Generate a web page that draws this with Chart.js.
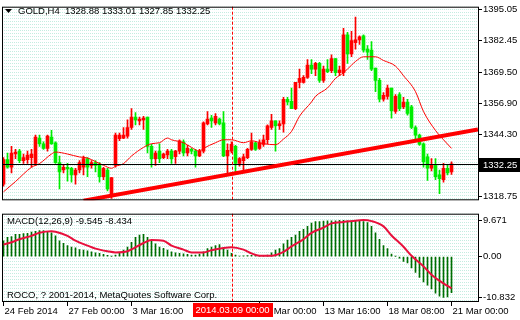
<!DOCTYPE html>
<html>
<head>
<meta charset="utf-8">
<script src="https://cdn.jsdelivr.net/npm/chart.js@4.4.1/dist/chart.umd.min.js"></script>
<style>
  html, body { margin: 0; padding: 0; background: #fff; }
  #wrap { position: relative; width: 520px; height: 320px; overflow: hidden; }
  canvas { position: absolute; left: 0; }
  #price { top: 0; }
  #macd { top: 207px; }
</style>
</head>
<body>
<div id="wrap">
  <canvas id="price" width="520" height="207"></canvas>
  <canvas id="macd" width="520" height="113"></canvas>
</div>
<script>
// GOLD H4 candles, one entry per bar (bar 0 = 24 Feb 2014 00:00)
const barOpen = [
  1323.9, 1333.9, 1330.8, 1336.2, 1337.4, 1333.5, 1333.9, 1334.7, 1332.4, 1342.7,
  1340.4, 1338.5, 1343.1, 1340.8, 1332.7, 1329.7, 1330.8, 1330.4, 1327.7, 1329.7,
  1330.8, 1334.3, 1331.6, 1332.7, 1332.0, 1327.0, 1329.7, 1318.9, 1331.6, 1342.4,
  1342.7, 1343.5, 1347.0, 1351.2, 1349.7, 1350.1, 1351.2, 1339.3, 1334.3, 1337.4,
  1334.7, 1335.8, 1337.4, 1335.1, 1337.4, 1341.2, 1336.6, 1338.1, 1337.4, 1335.4,
  1337.4, 1348.5, 1350.8, 1348.9, 1350.4, 1348.9, 1335.4, 1337.4, 1339.3, 1332.4,
  1333.5, 1334.7, 1338.1, 1340.8, 1338.5, 1340.1, 1342.0, 1347.0, 1349.7, 1347.7,
  1348.5, 1358.5, 1357.7, 1354.7, 1365.4, 1365.4, 1367.4, 1372.4, 1370.8, 1373.1,
  1366.2, 1370.8, 1370.1, 1375.1, 1369.3, 1369.3, 1384.7, 1377.0, 1381.6, 1382.7,
  1384.3, 1378.9, 1378.5, 1371.2, 1366.2, 1358.5, 1359.7, 1363.1, 1353.5, 1360.4,
  1355.4, 1357.4, 1355.4, 1347.0, 1343.9, 1340.4, 1335.1, 1330.4, 1331.6, 1327.7,
  1325.8, 1330.4, 1328.88
];
const barHigh = [
  1334.7, 1336.6, 1339.3, 1338.1, 1338.1, 1336.2, 1337.4, 1338.1, 1343.9, 1343.9,
  1341.2, 1343.9, 1345.8, 1341.2, 1335.4, 1331.6, 1332.4, 1330.8, 1330.4, 1333.5,
  1335.4, 1334.7, 1333.5, 1333.5, 1332.7, 1330.8, 1330.4, 1326.6, 1344.7, 1344.7,
  1347.0, 1350.1, 1354.7, 1353.1, 1351.2, 1351.6, 1351.2, 1340.1, 1337.4, 1340.4,
  1336.6, 1338.1, 1338.1, 1337.7, 1342.0, 1342.0, 1339.7, 1338.5, 1338.1, 1338.1,
  1349.3, 1353.5, 1352.0, 1352.7, 1350.8, 1353.5, 1340.4, 1341.2, 1339.7, 1334.7,
  1336.2, 1338.5, 1344.7, 1341.2, 1342.0, 1343.9, 1348.1, 1352.4, 1349.7, 1349.7,
  1359.3, 1359.3, 1363.1, 1365.4, 1370.8, 1368.1, 1374.7, 1374.7, 1373.5, 1373.5,
  1372.0, 1374.7, 1376.6, 1375.1, 1372.0, 1387.4, 1385.8, 1386.2, 1392.0, 1384.3,
  1384.7, 1380.4, 1382.0, 1371.2, 1367.0, 1361.2, 1364.3, 1363.1, 1360.4, 1361.2,
  1359.3, 1358.5, 1356.0, 1347.7, 1344.3, 1340.8, 1336.2, 1334.3, 1334.3, 1329.7,
  1332.4, 1331.6, 1333.01
];
const barLow = [
  1323.1, 1330.4, 1328.5, 1334.3, 1332.7, 1332.4, 1332.4, 1330.8, 1331.6, 1339.3,
  1338.1, 1337.4, 1340.1, 1332.4, 1322.0, 1328.5, 1325.1, 1324.7, 1323.9, 1328.5,
  1327.7, 1327.0, 1330.4, 1328.9, 1324.7, 1325.8, 1321.2, 1318.1, 1330.8, 1341.6,
  1342.4, 1342.7, 1346.2, 1348.1, 1348.1, 1346.2, 1336.6, 1330.8, 1331.6, 1332.7,
  1334.3, 1334.3, 1332.4, 1332.4, 1336.2, 1335.4, 1335.4, 1336.2, 1330.8, 1335.1,
  1336.6, 1348.1, 1347.0, 1348.1, 1348.1, 1335.1, 1328.5, 1336.6, 1328.9, 1331.2,
  1329.7, 1334.3, 1337.7, 1337.7, 1338.1, 1339.3, 1340.4, 1346.2, 1337.4, 1346.2,
  1345.1, 1356.2, 1354.7, 1354.3, 1363.1, 1365.1, 1367.0, 1368.9, 1368.1, 1365.4,
  1365.4, 1369.3, 1369.3, 1368.1, 1368.1, 1368.1, 1373.1, 1375.8, 1378.9, 1380.8,
  1377.7, 1374.7, 1370.1, 1361.6, 1357.4, 1357.7, 1358.5, 1350.8, 1352.7, 1353.9,
  1354.7, 1352.0, 1346.5, 1342.0, 1339.7, 1330.8, 1325.4, 1329.3, 1325.8, 1320.1,
  1324.7, 1327.7, 1327.85
];
const barClose = [
  1333.9, 1330.8, 1336.6, 1337.0, 1333.5, 1334.7, 1335.8, 1336.2, 1343.1, 1340.4,
  1338.5, 1343.5, 1340.4, 1332.7, 1328.9, 1330.8, 1330.1, 1327.7, 1329.7, 1332.7,
  1334.3, 1330.8, 1332.7, 1331.6, 1327.0, 1330.4, 1322.0, 1326.6, 1343.9, 1343.9,
  1343.9, 1347.0, 1351.2, 1350.1, 1350.4, 1350.8, 1339.3, 1334.3, 1336.6, 1334.3,
  1336.2, 1337.4, 1334.3, 1337.4, 1341.6, 1336.6, 1338.5, 1337.4, 1335.4, 1337.4,
  1348.9, 1350.4, 1349.7, 1351.6, 1348.5, 1335.4, 1337.7, 1340.1, 1332.4, 1334.3,
  1335.1, 1338.1, 1341.2, 1338.1, 1340.8, 1342.0, 1347.7, 1349.7, 1347.7, 1348.5,
  1358.5, 1357.4, 1354.7, 1365.4, 1367.0, 1367.4, 1372.4, 1370.8, 1373.1, 1366.2,
  1370.8, 1369.7, 1375.1, 1369.3, 1370.4, 1384.7, 1377.0, 1382.4, 1382.7, 1383.9,
  1378.5, 1377.7, 1370.8, 1366.2, 1358.5, 1360.1, 1363.1, 1353.9, 1359.7, 1354.7,
  1357.4, 1352.7, 1347.0, 1343.9, 1340.1, 1333.1, 1330.4, 1331.6, 1327.0, 1326.2,
  1330.4, 1328.5, 1332.25
];

// moving average, read at these bars
const maBars = [0, 3, 7, 9, 12, 13, 16, 19, 21, 23, 25, 27, 28, 30, 32, 35, 37, 39, 41, 42,
  45, 47, 49, 50, 53, 55, 57, 60, 62, 65, 68, 70, 72, 74, 77, 78, 81, 83, 85, 87,
  88, 90, 93, 95, 98, 100, 103, 105, 108, 110, 112];
const maValues = [1320.8, 1325.0, 1330.8, 1332.3, 1336.2, 1337.0, 1336.2, 1335.0, 1334.6, 1333.1,
  1331.6, 1330.4, 1331.2, 1332.3, 1335.4, 1338.9, 1340.4, 1340.8, 1342.7, 1342.0,
  1340.8, 1338.9, 1337.4, 1338.5, 1340.8, 1342.0, 1342.0, 1340.8, 1341.6, 1340.4,
  1340.0, 1342.3, 1345.4, 1351.6, 1357.4, 1359.7, 1363.1, 1367.0, 1369.3, 1372.4,
  1373.9, 1375.8, 1375.8, 1374.3, 1372.0, 1368.1, 1361.6, 1353.5, 1345.8, 1342.0, 1338.5];

// trend line end points
const trendBars = [20, 118.6];
const trendValues = [1317.2, 1346.2];

// MACD(12,26,9) main values per bar and the signal line
const macdMain = [
  4.2, 5.1, 5.3, 5.9, 5.9, 6.1, 6.15, 6.5, 6.7, 6.9,
  6.9, 6.7, 6.3, 5.5, 4.2, 3.5, 2.9, 2.5, 2.3, 1.85,
  1.7, 1.5, 1.27, 1.0, 0.84, 0.6, 0.34, 0.05, 0.42, 0.84,
  1.7, 2.5, 3.8, 5.1, 5.7, 5.9, 5.1, 4.05, 3.4, 2.5,
  2.2, 1.7, 1.27, 1.0, 0.84, 0.7, 0.6, 0.42, 0.42, 0.67,
  1.27, 2.1, 2.5, 2.9, 3.2, 2.1, 1.7, 0.84, 0.42, 0.1,
  0.2, 0.25, 0.3, 0.42, 0.3, 0.17, 0.42, 1.0, 1.7, 2.1,
  3.4, 4.4, 5.1, 5.7, 6.7, 7.2, 8.0, 8.9, 9.3, 9.3,
  9.4, 9.5, 9.5, 9.5, 9.6, 9.6, 9.5, 9.5, 9.4, 9.4,
  9.3, 9.0, 8.0, 6.3, 4.6, 2.9, 2.1, 0.67, 0.05, -0.4,
  -1.3, -1.7, -3.0, -4.2, -5.5, -6.75, -7.6, -8.6, -9.7, -10.5,
  -10.83, -10.7, -9.545
];
const signalBars = [0, 2, 4, 7, 9, 12, 13, 16, 18, 21, 23, 26, 28, 31, 32, 35, 37, 40, 42, 45,
  47, 50, 52, 55, 57, 60, 62, 64, 67, 70, 72, 75, 77, 80, 82, 85, 87, 90, 92, 95,
  97, 100, 102, 105, 107, 110, 112];
const signalValues = [3.2, 3.8, 4.6, 5.5, 6.3, 6.7, 6.6, 5.5, 4.2, 2.9, 2.1, 1.4, 1.1, 1.4, 1.9, 3.6,
  4.4, 4.2, 2.9, 1.85, 1.1, 1.1, 1.7, 2.3, 2.5, 1.85, 0.84, 0.25, 0.25, 1.27, 2.7,
  4.6, 6.3, 7.7, 8.8, 9.2, 9.4, 9.67, 9.4, 8.0, 5.6, 2.6, 0.2, -2.6, -4.8, -7.1, -8.434];

// axis labels
const priceTicks = [1395.05, 1382.45, 1369.50, 1356.90, 1344.30, 1318.75];
const macdTicks = [9.671, 0, -10.832];
const macdTickLabels = ['9.671', '0.00', '-10.832'];
const timeTickBars = [0, 16, 32, 64, 80, 96, 112];
const timeTickLabels = ['24 Feb 2014', '27 Feb 00:00', '3 Mar 16:00', '10 Mar 00:00',
  '13 Mar 16:00', '18 Mar 08:00', '21 Mar 00:00'];
const crosshairBar = 57.1;
const crosshairLabel = '2014.03.09 00:00';

const BULL = '#ff0000';
const BEAR = '#00ee00';
const FONT = "'Liberation Sans', Arial, sans-serif";
const last = barClose.length - 1;

Chart.defaults.font.family = FONT;
Chart.defaults.font.size = 9.5;
Chart.defaults.color = '#000';

const candleColors = barClose.map((c, i) => c >= barOpen[i] ? BULL : BEAR);

// light dotted background of the panels
const dots = document.createElement('canvas');
dots.width = 2;
dots.height = 3;
const dctx = dots.getContext('2d');
dctx.fillStyle = '#c4ece0';
dctx.fillRect(0, 0, 1, 1);

const panel = {
  id: 'panel',
  beforeDraw(chart) {
    const { ctx, chartArea: a } = chart;
    ctx.save();
    ctx.fillStyle = '#fff';
    ctx.fillRect(0, 0, chart.width, chart.height);
    ctx.fillStyle = ctx.createPattern(dots, 'repeat');
    ctx.fillRect(a.left, a.top, a.right - a.left, a.bottom - a.top);
    ctx.restore();
  },
  afterDatasetsDraw(chart) {
    const { ctx, chartArea: a } = chart;
    const x = Math.round(chart.scales.x.getPixelForValue(crosshairBar)) + 0.5;
    ctx.save();
    ctx.strokeStyle = '#ff0000';
    ctx.lineWidth = 1;
    ctx.setLineDash([3, 2]);
    ctx.beginPath();
    ctx.moveTo(x, a.top);
    ctx.lineTo(x, a.bottom);
    ctx.stroke();
    ctx.setLineDash([]);
    ctx.strokeStyle = '#000';
    ctx.strokeRect(a.left + 0.5, a.top + 0.5, a.right - a.left, a.bottom - a.top - 1);
    ctx.restore();
  }
};

const priceExtras = {
  id: 'priceExtras',
  beforeDatasetDraw(chart, args) {
    if (args.index !== 0) return;
    const { ctx, chartArea: a } = chart;
    const y = Math.round(chart.scales.y.getPixelForValue(barClose[last])) + 0.5;
    ctx.save();
    ctx.strokeStyle = '#000';
    ctx.lineWidth = 1;
    ctx.beginPath();
    ctx.moveTo(a.left, y);
    ctx.lineTo(a.right, y);
    ctx.stroke();
    ctx.restore();
  },
  afterDraw(chart) {
    const { ctx, chartArea: a } = chart;
    const y = Math.round(chart.scales.y.getPixelForValue(barClose[last]));
    ctx.save();
    ctx.fillStyle = '#000';
    ctx.fillRect(a.right + 1, y - 6, chart.width - a.right - 1, 14);
    ctx.fillStyle = '#fff';
    ctx.font = '9.5px ' + FONT;
    ctx.textBaseline = 'middle';
    ctx.fillText(barClose[last].toFixed(2), a.right + 5, y + 1);

    ctx.fillStyle = '#000';
    ctx.beginPath();
    ctx.moveTo(5, 9);
    ctx.lineTo(12, 9);
    ctx.lineTo(8.5, 13);
    ctx.closePath();
    ctx.fill();
    ctx.fillText('GOLD,H4  ' + [barOpen[last], barHigh[last], barLow[last], barClose[last]]
      .map(v => v.toFixed(2)).join(' '), 18, 11);
    ctx.restore();
  }
};

const macdExtras = {
  id: 'macdExtras',
  afterDraw(chart) {
    const { ctx, chartArea: a } = chart;
    ctx.save();
    ctx.font = '9.5px ' + FONT;
    ctx.textBaseline = 'middle';
    ctx.fillStyle = '#000';
    ctx.fillText('MACD(12,26,9) ' + macdMain[last].toFixed(3) + ' ' +
      signalValues[signalValues.length - 1].toFixed(3), 7, a.top + 8);
    ctx.fillText('ROCO, ? 2001-2014, MetaQuotes Software Corp.', 7, a.bottom - 7);

    const cx = Math.round(chart.scales.x.getPixelForValue(crosshairBar)) + 0.5;
    const w = Math.round(ctx.measureText(crosshairLabel).width + 6);
    ctx.fillStyle = '#ff0000';
    ctx.fillRect(Math.round(cx - w / 2), a.bottom + 1, w, 14);
    ctx.fillStyle = '#fff';
    ctx.textAlign = 'center';
    ctx.fillText(crosshairLabel, cx, a.bottom + 8.5);
    ctx.restore();
  }
};

const xRange = { type: 'linear', min: -0.375, max: 118.625, offset: false };

new Chart(document.getElementById('price'), {
  type: 'bar',
  data: {
    datasets: [
      {
        type: 'line',
        data: trendBars.map((b, i) => ({ x: b, y: trendValues[i] })),
        borderColor: '#ff0000',
        borderWidth: 4,
        pointRadius: 0,
        clip: 0
      },
      {
        type: 'line',
        data: maBars.map((b, i) => ({ x: b, y: maValues[i] })),
        borderColor: '#ff0000',
        borderWidth: 1,
        pointRadius: 0,
        cubicInterpolationMode: 'monotone'
      },
      {
        data: barOpen.map((o, i) => ({ x: i, y: [o, barClose[i]] })),
        backgroundColor: candleColors,
        barThickness: 3,
        minBarLength: 1,
        grouped: false
      },
      {
        data: barLow.map((l, i) => ({ x: i, y: [l, barHigh[i]] })),
        backgroundColor: candleColors,
        barThickness: 1,
        grouped: false
      }
    ]
  },
  options: {
    responsive: false,
    animation: false,
    devicePixelRatio: 1,
    layout: { padding: { left: 2, top: 2, right: 0, bottom: 0 } },
    plugins: { legend: { display: false }, tooltip: { enabled: false } },
    scales: {
      x: { ...xRange, display: false, grid: { offset: false } },
      y: {
        position: 'right',
        min: 1317.35,
        max: 1396.2,
        afterBuildTicks: s => { s.ticks = priceTicks.map(v => ({ value: v })); },
        afterFit: s => { s.width = 42; },
        ticks: { padding: 1, color: '#000', callback: v => v.toFixed(2) },
        grid: { drawOnChartArea: false, color: '#000', tickLength: 4 },
        border: { display: false }
      }
    }
  },
  plugins: [panel, priceExtras]
});

new Chart(document.getElementById('macd'), {
  type: 'bar',
  data: {
    datasets: [
      {
        type: 'line',
        data: signalBars.map((b, i) => ({ x: b, y: signalValues[i] })),
        borderColor: '#e8103c',
        borderWidth: 2,
        pointRadius: 0,
        cubicInterpolationMode: 'monotone'
      },
      {
        data: macdMain.map((v, i) => ({ x: i, y: v })),
        backgroundColor: '#006e00',
        barThickness: 1,
        grouped: false
      }
    ]
  },
  options: {
    responsive: false,
    animation: false,
    devicePixelRatio: 1,
    layout: { padding: { left: 2, top: 2, right: 0, bottom: 0 } },
    plugins: { legend: { display: false }, tooltip: { enabled: false } },
    scales: {
      x: {
        ...xRange,
        afterBuildTicks: s => { s.ticks = timeTickBars.map(v => ({ value: v })); },
        afterFit: s => { s.height = 18; },
        ticks: {
          align: 'start',
          labelOffset: 1,
          padding: 0,
          maxRotation: 0,
          autoSkip: false,
          color: '#000',
          callback: (v, i) => timeTickLabels[i]
        },
        grid: { drawOnChartArea: false, offset: false, color: '#000', tickLength: 4 },
        border: { display: false }
      },
      y: {
        position: 'right',
        min: -12.05,
        max: 11.37,
        afterBuildTicks: s => { s.ticks = macdTicks.map(v => ({ value: v })); },
        afterFit: s => { s.width = 42; },
        ticks: { padding: 1, color: '#000', callback: (v, i) => macdTickLabels[i] },
        grid: { drawOnChartArea: false, color: '#000', tickLength: 4 },
        border: { display: false }
      }
    }
  },
  plugins: [panel, macdExtras]
});
</script>
</body>
</html>
